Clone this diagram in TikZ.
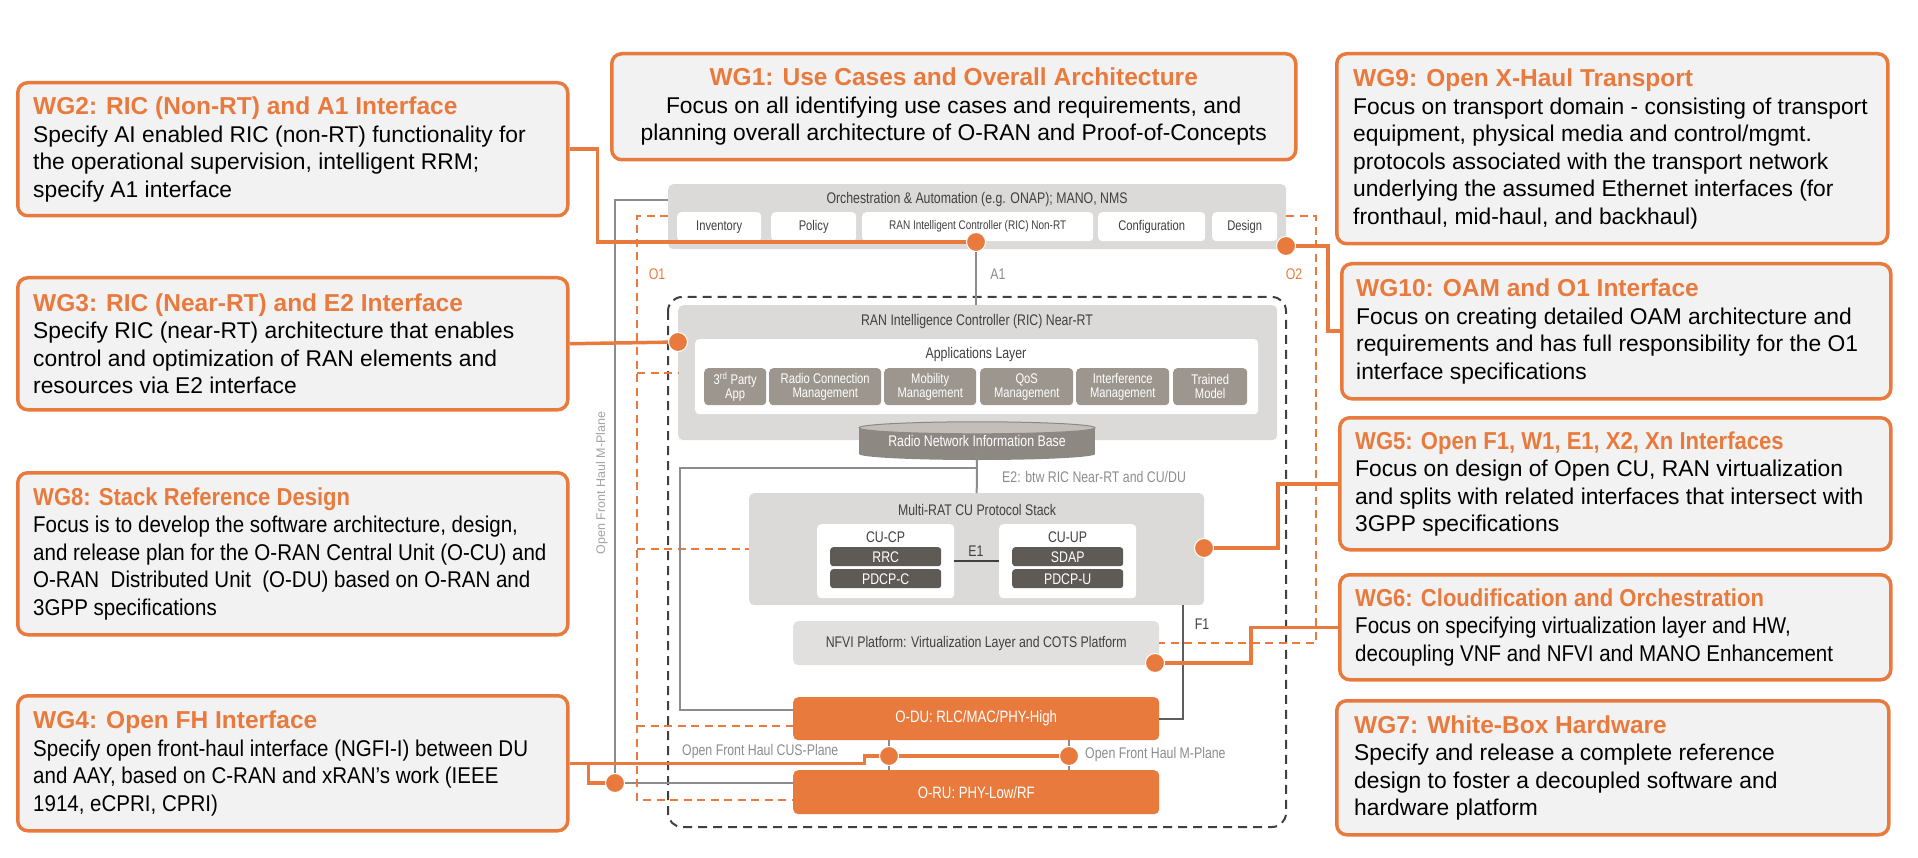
\documentclass[tikz,border=0pt]{standalone}
\usepackage{fontspec}
\setmainfont{Liberation Sans}
\newfontfamily\narrowfont[FakeStretch=0.8]{Liberation Sans}
\newfontfamily\condfont[FakeStretch=0.9]{Liberation Sans}
\usetikzlibrary{positioning}

\definecolor{orn}{HTML}{E97A3E}
\definecolor{wgfill}{HTML}{F2F2F2}
\definecolor{boxgray}{HTML}{DCDAD8}
\definecolor{appgray}{HTML}{9C968F}
\definecolor{stackgray}{HTML}{5E5A56}
\definecolor{rnibgray}{HTML}{8E8882}
\definecolor{rnibtop}{HTML}{C4BEB8}
\definecolor{linegray}{HTML}{8C8C8C}
\definecolor{txtgray}{HTML}{404040}

\newcommand{\wgt}[1]{{\fontsize{24.5}{27.5}\selectfont\bfseries\color{orn}#1}}
\newcommand{\infont}{\narrowfont\fontsize{14}{14}\selectfont}
\newcommand{\inbig}{\narrowfont\fontsize{15.4}{15.4}\selectfont}

\begin{document}
\begin{tikzpicture}[x=1pt, y=-1pt,
  wgbox/.style={draw=orn, line width=3.5pt, fill=wgfill, rounded corners=10pt, anchor=north west, inner sep=0pt},
  wgtext/.style={align=left, inner sep=0pt, font=\fontsize{22.8}{27.5}\selectfont},
  wgcond/.style={wgtext, font=\condfont\fontsize{22.8}{27.5}\selectfont},
  graybox/.style={fill=boxgray, rounded corners=5pt, anchor=north west, inner sep=0pt},
  whitebox/.style={fill=white, rounded corners=4pt, anchor=north west, inner sep=0pt, font=\infont, text=txtgray},
  appbox/.style={fill=appgray, rounded corners=4pt, anchor=north west, inner sep=0pt, align=center, font=\infont, text=white, minimum height=37pt},
  stackbox/.style={fill=stackgray, rounded corners=3pt, anchor=north west, inner sep=0pt, font=\inbig, text=white, minimum width=111pt, minimum height=19pt},
  oranbox/.style={fill=orn, rounded corners=5pt, anchor=north west, inner sep=0pt, font=\narrowfont\fontsize{16.5}{16.5}\selectfont, text=white, minimum width=366pt},
  intitle/.style={font=\inbig, text=txtgray, inner sep=0pt},
  lbl/.style={font=\inbig, text=linegray, inner sep=0pt},
  jdot/.style={circle, fill=orn, draw=white, line width=1pt, minimum size=19pt, inner sep=0pt},
  wgline/.style={draw=orn, line width=3.5pt},
  odash/.style={draw=orn, line width=2.2pt, dash pattern=on 8pt off 5.5pt},
  gline/.style={draw=linegray, line width=2pt},
  dline/.style={draw=txtgray, line width=2pt}
]
\useasboundingbox (0,0) rectangle (1918,858);

% working group boxes, left column
\node[wgbox, minimum width=550pt, minimum height=133pt] (wg2) at (16,81) {};
\node[wgtext, right=17pt of wg2.west] (wg2t) {\wgt{WG2: RIC (Non-RT) and A1 Interface}\\Specify AI enabled RIC (non-RT) functionality for\\the operational supervision, intelligent RRM;\\specify A1 interface};
\node[wgbox, minimum width=550pt, minimum height=132pt] (wg3) at (16,276) {};
\node[wgtext, right=17pt of wg3.west] (wg3t) {\wgt{WG3: RIC (Near-RT) and E2 Interface}\\Specify RIC (near-RT) architecture that enables\\control and optimization of RAN elements and\\resources via E2 interface};
\node[wgbox, minimum width=550pt, minimum height=162pt] (wg8) at (16,471) {};
\node[wgcond, right=17pt of wg8.west] (wg8t) {\wgt{WG8: Stack Reference Design}\\Focus is to develop the software architecture, design,\\and release plan for the O-RAN Central Unit (O-CU) and\\O-RAN\ \ Distributed Unit\ \ (O-DU) based on O-RAN and\\3GPP specifications};
\node[wgbox, minimum width=550pt, minimum height=135pt] (wg4) at (16,694) {};
\node[wgcond, right=17pt of wg4.west] (wg4t) {\wgt{\rmfamily WG4: Open FH Interface}\\Specify open front-haul interface (NGFI-I) between DU\\and AAY, based on C-RAN and xRAN’s work (IEEE\\1914, eCPRI, CPRI)};

% working group boxes, top and right column
\node[wgbox, minimum width=684pt, minimum height=106pt] (wg1) at (610,52) {};
\node[wgtext, align=center] (wg1t) at (wg1.center) {\wgt{WG1: Use Cases and Overall Architecture}\\Focus on all identifying use cases and requirements, and\\planning overall architecture of O-RAN and Proof-of-Concepts};
\node[wgbox, minimum width=551pt, minimum height=190pt] (wg9) at (1335,52) {};
\node[wgtext, right=18pt of wg9.west] (wg9t) {\wgt{WG9: Open X-Haul Transport}\\Focus on transport domain - consisting of transport\\equipment, physical media and control/mgmt.\\protocols associated with the transport network\\underlying the assumed Ethernet interfaces (for\\fronthaul, mid-haul, and backhaul)};
\node[wgbox, minimum width=549pt, minimum height=135pt] (wg10) at (1340,262) {};
\node[wgtext, right=16pt of wg10.west] (wg10t) {\wgt{WG10: OAM and O1 Interface}\\Focus on creating detailed OAM architecture and\\requirements and has full responsibility for the O1\\interface specifications};
\node[wgbox, minimum width=551pt, minimum height=132pt] (wg5) at (1338,416) {};
\node[wgtext, right=17pt of wg5.west] (wg5t) {\wgt{\condfont WG5: Open F1, W1, E1, X2, Xn Interfaces}\\Focus on design of Open CU, RAN virtualization\\and splits with related interfaces that intersect with\\3GPP specifications};
\node[wgbox, minimum width=551pt, minimum height=105pt] (wg6) at (1338,573) {};
\node[wgcond, right=17pt of wg6.west] (wg6t) {\wgt{WG6: Cloudification and Orchestration}\\Focus on specifying virtualization layer and HW,\\decoupling VNF and NFVI and MANO Enhancement};
\node[wgbox, minimum width=552pt, minimum height=134pt] (wg7) at (1335,699) {};
\node[wgtext, right=19pt of wg7.west] (wg7t) {\wgt{WG7: White-Box Hardware}\\Specify and release a complete reference\\design to foster a decoupled software and\\hardware platform};

% O-RAN domain frame
\draw[dline, dash pattern=on 9pt off 6pt, rounded corners=14pt] (668,297) rectangle (1286,827);

% orchestration and automation
\node[graybox, minimum width=618pt, minimum height=65pt] (orch) at (668,184) {};
\node[intitle] (orcht) at (977,200) {Orchestration \& Automation (e.g. ONAP); MANO, NMS};
\node[whitebox, minimum width=84pt, minimum height=29pt] (inv) at (677,212) {Inventory};
\node[whitebox, minimum width=85pt, minimum height=29pt] (pol) at (771,212) {Policy};
\node[whitebox, minimum width=231pt, minimum height=29pt, font=\narrowfont\fontsize{12.5}{13}\selectfont] (nrt) at (862,212) {RAN Intelligent Controller (RIC) Non-RT};
\node[whitebox, minimum width=107pt, minimum height=29pt] (conf) at (1098,212) {Configuration};
\node[whitebox, minimum width=65pt, minimum height=29pt] (des) at (1212,212) {Design};

% near-RT RIC
\node[graybox, minimum width=599pt, minimum height=135pt] (ric) at (678,305) {};
\node[intitle] (rict) at (977,322) {RAN Intelligence Controller (RIC) Near-RT};
\node[whitebox, minimum width=563pt, minimum height=75pt] (apps) at (695,339) {};
\node[intitle] (appst) at (976,355) {Applications Layer};
\node[appbox, minimum width=62pt] (app1) at (704,368) {3\textsuperscript{rd} Party\\App};
\node[appbox, minimum width=112pt] (app2) at (769,368) {Radio Connection\\Management};
\node[appbox, minimum width=92pt] (app3) at (884,368) {Mobility\\Management};
\node[appbox, minimum width=93pt] (app4) at (980,368) {QoS\\Management};
\node[appbox, minimum width=93pt] (app5) at (1076,368) {Interference\\Management};
\node[appbox, minimum width=74pt] (app6) at (1173,368) {Trained\\Model};

% radio network information base
\fill[rnibgray] (977,454) ellipse (118pt and 6pt);
\node[fill=rnibgray, minimum width=236pt, minimum height=26pt, inner sep=0pt, font=\inbig, text=white] (rnib) at (977,441) {Radio Network Information Base};
\filldraw[fill=rnibtop, draw=rnibgray, line width=1pt] (rnib.north) ellipse (118pt and 6pt);

% CU protocol stack
\node[graybox, minimum width=455pt, minimum height=112pt] (cu) at (749,493) {};
\node[intitle] (cut) at (977,510) {Multi-RAT CU Protocol Stack};
\node[whitebox, minimum width=137pt, minimum height=74pt] (cucp) at (817,524) {};
\node[intitle] (cucpt) at (885.5,537) {CU-CP};
\node[stackbox] (rrc) at (830,547) {RRC};
\node[stackbox] (pdcpc) at (830,569) {PDCP-C};
\node[whitebox, minimum width=137pt, minimum height=74pt] (cuup) at (999,524) {};
\node[intitle] (cuupt) at (1067.5,537) {CU-UP};
\node[stackbox] (sdap) at (1012,547) {SDAP};
\node[stackbox] (pdcpu) at (1012,569) {PDCP-U};

% NFVI, O-DU, O-RU
\node[graybox, fill=boxgray!85, minimum width=366pt, minimum height=44pt, font=\inbig, text=txtgray] (nfvi) at (793,621) {NFVI Platform: Virtualization Layer and COTS Platform};
\node[oranbox, minimum height=43pt] (odu) at (793,697) {O-DU: RLC/MAC/PHY-High};
\node[oranbox, minimum height=44pt] (oru) at (793,770) {O-RU: PHY-Low/RF};

% joint points
\coordinate (pnrt) at (976,242);
\coordinate (pdes) at (1286,246);
\coordinate (pric) at (678,342);
\coordinate (pcu) at (1204,548);
\coordinate (pnfvi) at (1155,663);
\coordinate (pmp) at (615,783);
\coordinate (pcus) at (889,756);
\coordinate (pm) at (1069,756);
\coordinate (mtop) at (615,200);
\coordinate (o1top) at (637,216);
\coordinate (o1du) at (637,726);
\coordinate (o1bot) at (637,800);
\coordinate (o2top) at (1316,216);
\coordinate (e2b) at (977,468);
\coordinate (e2c) at (680,710);
\coordinate (f1t) at (1183,605);

% interfaces
\draw[gline] (orch.west |- mtop) -- (mtop) -- (pmp) -- (oru.west |- pmp);
\draw[odash] (orch.west |- o1top) -- (o1top) -- (o1bot) -- (oru.west |- o1bot);
\draw[odash] (ric.west -| o1top) -- (ric.west);
\draw[odash] (cu.west -| o1top) -- (cu.west);
\draw[odash] (o1du) -- (odu.west |- o1du);
\draw[odash] (orch.east |- o2top) -- (o2top) |- (nfvi.east);
\draw[gline] (pnrt) -- (ric.north -| pnrt);
\draw[gline] (rnib.south) -- (cu.north);
\draw[gline] (e2b) -| (e2c) -- (odu.west |- e2c);
\draw[dline, draw=txtgray!85] (f1t) |- (odu.east);
\draw[dline] (cucp.east) -- (cuup.west);
\draw[gline] (odu.south -| pcus) -- (oru.north -| pcus);
\draw[gline] (odu.south -| pm) -- (oru.north -| pm);

% working group links
\draw[wgline] (wg2.east) -- ++(28,0) |- (pnrt);
\draw[wgline] (pdes) -- ++(42,0) |- (wg10.west);
\draw[wgline] (wg3.east) -- (pric);
\draw[wgline] (pcu) -- ++(74,0) |- (wg5.west);
\draw[wgline] (pnfvi) -- ++(96,0) |- (wg6.west);
\draw[wgline] (wg4.east) -- ++(295,0) |- (pcus);
\draw[wgline] (wg4.east) ++(19,0) |- (pmp);
\draw[wgline] (pcus) -- (pm);

% dots
\node[jdot] (dnrt) at (pnrt) {};
\node[jdot] (ddes) at (pdes) {};
\node[jdot] (dric) at (pric) {};
\node[jdot] (dcu) at (pcu) {};
\node[jdot] (dnfvi) at (pnfvi) {};
\node[jdot] (dmp) at (pmp) {};
\node[jdot] (dcus) at (pcus) {};
\node[jdot] (dm) at (pm) {};

% labels
\node[lbl, text=orn] (o1l) at (657,274) {O1};
\node[lbl, text=orn] (o2l) at (1294,274) {O2};
\node[lbl] (a1l) at (998,274) {A1};
\node[lbl, anchor=west] (e2l) at (1002,477) {E2: btw RIC Near-RT and CU/DU};
\node[lbl, text=txtgray] (e1l) at (976,551) {E1};
\node[lbl, text=txtgray] (f1l) at (1202,624) {F1};
\node[lbl, anchor=west] (cusl) at (682,752) {Open Front Haul CUS-Plane};
\node[lbl, anchor=west] (mpl) at (1085,755) {Open Front Haul M-Plane};
\node[lbl, rotate=90, font=\fontsize{12.5}{13}\selectfont, text=linegray!80] (mpv) at (602,483) {Open Front Haul M-Plane};
\end{tikzpicture}
\end{document}
